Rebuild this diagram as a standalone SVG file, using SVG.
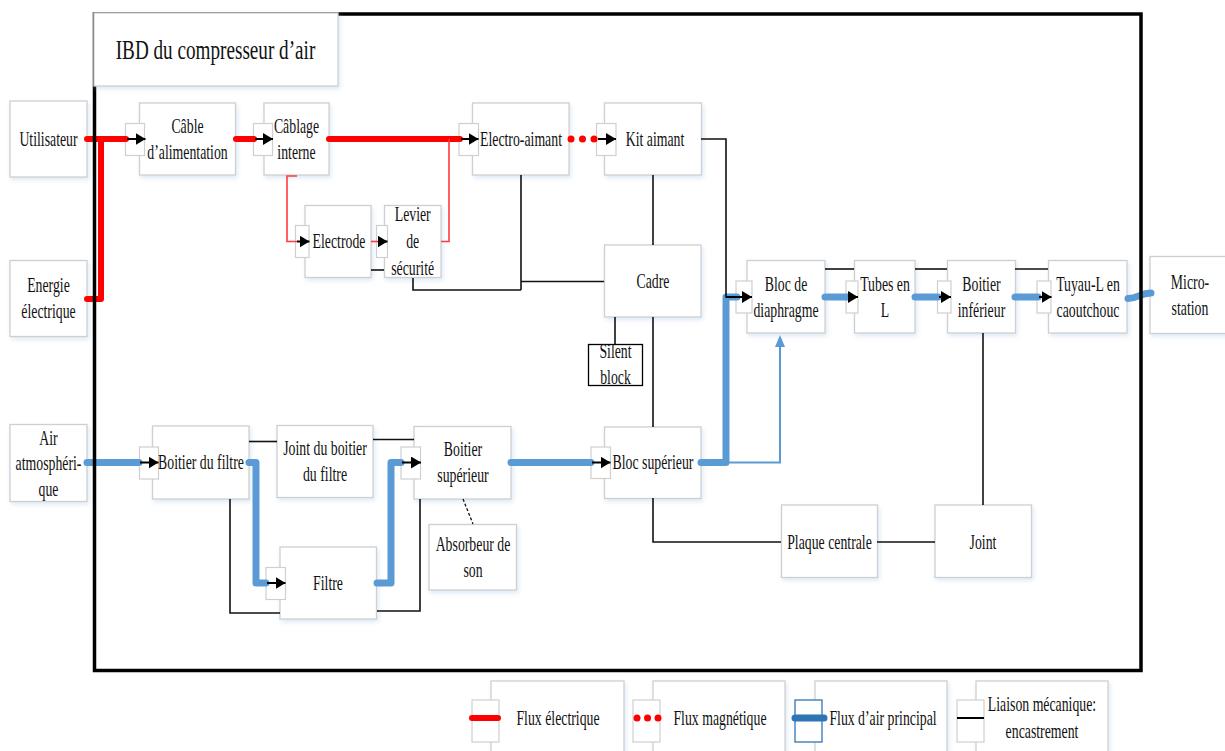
<svg xmlns="http://www.w3.org/2000/svg" width="1225" height="751" viewBox="0 0 1225 751">
<defs>
<filter id="sh" x="-10%" y="-10%" width="125%" height="130%">
<feDropShadow dx="1.5" dy="2.5" stdDeviation="2" flood-color="#9dc3e6" flood-opacity="0.35"/>
</filter>
<marker id="ab" viewBox="0 0 10 12" refX="10" refY="6" markerWidth="10" markerHeight="12" markerUnits="userSpaceOnUse" orient="auto">
<path d="M0,0 L10,6 L0,12 z" fill="#000"/>
</marker>
<marker id="abl" viewBox="0 0 12 10" refX="0" refY="5" markerWidth="12" markerHeight="10" markerUnits="userSpaceOnUse" orient="auto">
<path d="M0,0 L12,5 L0,10 z" fill="#5b9bd5"/>
</marker>
</defs>
<style>
.n{fill:#fff;stroke:#cfcfcf;stroke-width:1.3;filter:url(#sh)}
.p{fill:#fff;stroke:#cfcfcf;stroke-width:1.2}
.t{font-family:"Liberation Serif","Times New Roman",serif;font-size:20px;fill:#111;text-anchor:middle}
.re{fill:none;stroke:#ff0000;stroke-width:6;stroke-linecap:round;stroke-linejoin:round}
.rt{fill:none;stroke:#ff3b3b;stroke-width:1.6}
.rd{fill:none;stroke:#ff0000;stroke-width:7;stroke-linecap:round}
.bl{fill:none;stroke:#5b9bd5;stroke-width:7;stroke-linecap:round;stroke-linejoin:round}
.bt{fill:none;stroke:#5b9bd5;stroke-width:2}
.mk{fill:none;stroke:#111;stroke-width:1.6}
.ar{fill:none;stroke:#000;stroke-width:2;marker-end:url(#ab)}
.ds{fill:none;stroke:#111;stroke-width:1.3;stroke-dasharray:3 2}
</style>
<rect x="0" y="0" width="1225" height="751" fill="#fff"/>

<g id="utilisateur"><rect class="n" x="10" y="101" width="77" height="76"/><text class="t" transform="translate(48.5,0) scale(.69,1)" y="146">Utilisateur</text></g>
<g id="energie"><rect class="n" x="10" y="260.5" width="77" height="76"/><text class="t" transform="translate(48.5,0) scale(.69,1)"><tspan x="0" y="292">Energie</tspan><tspan x="0" y="318">électrique</tspan></text></g>
<g id="air"><rect class="n" x="10" y="424.5" width="77" height="77"/><text class="t" transform="translate(48.5,0) scale(.69,1)"><tspan x="0" y="445">Air</tspan><tspan x="0" y="470.5">atmosphéri-</tspan><tspan x="0" y="496">que</tspan></text></g>

<g id="cable"><rect class="n" x="139.5" y="103" width="96" height="72"/><rect class="p" x="125.5" y="123.5" width="19" height="32"/><text class="t" transform="translate(187.5,0) scale(.69,1)"><tspan x="0" y="133">Câble</tspan><tspan x="0" y="159">d’alimentation</tspan></text></g>
<g id="cablage"><rect class="n" x="264" y="103" width="65" height="72"/><rect class="p" x="253.5" y="123.5" width="19" height="32"/><text class="t" transform="translate(296.5,0) scale(.69,1)"><tspan x="0" y="133">Câblage</tspan><tspan x="0" y="159">interne</tspan></text></g>
<g id="electrode"><rect class="n" x="305" y="205.5" width="66" height="72"/><rect class="p" x="295.5" y="225.5" width="13.5" height="32"/><text class="t" transform="translate(339,0) scale(.69,1)" y="248.5">Electrode</text></g>
<g id="levier"><rect class="n" x="384.5" y="205.5" width="56.5" height="72"/><rect class="p" x="376.5" y="225.5" width="11" height="32"/><text class="t" transform="translate(412.7,0) scale(.69,1)"><tspan x="0" y="221.5">Levier</tspan><tspan x="0" y="248">de</tspan><tspan x="0" y="275">sécurité</tspan></text></g>
<g id="electroaimant"><rect class="n" x="472.5" y="103" width="96.5" height="72"/><rect class="p" x="459" y="123.5" width="19.5" height="32"/><text class="t" transform="translate(521,0) scale(.69,1)" y="146">Electro-aimant</text></g>
<g id="kitaimant"><rect class="n" x="604.5" y="103" width="97" height="72"/><rect class="p" x="596.5" y="123.5" width="19.5" height="32"/><text class="t" transform="translate(655,0) scale(.69,1)" y="146">Kit aimant</text></g>
<g id="cadre"><rect class="n" x="604.5" y="245" width="96.5" height="72"/><text class="t" transform="translate(653,0) scale(.69,1)" y="288.5">Cadre</text></g>
<g id="silentblock"><rect x="588.5" y="344.5" width="54" height="41" fill="#fff" stroke="#000" stroke-width="1.3"/><text class="t" transform="translate(615.5,0) scale(.69,1)"><tspan x="0" y="358.5">Silent</tspan><tspan x="0" y="384.5">block</tspan></text></g>

<g id="blocdiaphragme"><rect class="n" x="747" y="260.5" width="78" height="72.5"/><rect class="p" x="736" y="281" width="16" height="32"/><text class="t" transform="translate(786,0) scale(.69,1)"><tspan x="0" y="291">Bloc de</tspan><tspan x="0" y="317">diaphragme</tspan></text></g>
<g id="tubes"><rect class="n" x="854.5" y="260.5" width="60.5" height="72.5"/><rect class="p" x="846" y="281" width="12" height="32"/><text class="t" transform="translate(885,0) scale(.69,1)"><tspan x="0" y="291">Tubes en</tspan><tspan x="0" y="317">L</tspan></text></g>
<g id="boitierinferieur"><rect class="n" x="947.5" y="260.5" width="68" height="72.5"/><rect class="p" x="937.5" y="281" width="13.5" height="32"/><text class="t" transform="translate(981.5,0) scale(.69,1)"><tspan x="0" y="291">Boitier</tspan><tspan x="0" y="317">inférieur</tspan></text></g>
<g id="tuyau"><rect class="n" x="1048.5" y="260.5" width="78.5" height="72.5"/><rect class="p" x="1037" y="281" width="14" height="32"/><text class="t" transform="translate(1088,0) scale(.69,1)"><tspan x="0" y="291">Tuyau-L en</tspan><tspan x="0" y="317">caoutchouc</tspan></text></g>
<g id="microstation"><rect class="n" x="1150" y="256.5" width="80" height="77"/><text class="t" transform="translate(1190,0) scale(.69,1)"><tspan x="0" y="289.5">Micro-</tspan><tspan x="0" y="315">station</tspan></text></g>

<g id="boitierfiltre"><rect class="n" x="152.5" y="426" width="96.5" height="73"/><rect class="p" x="139.5" y="447" width="19" height="32"/><text class="t" transform="translate(201,0) scale(.69,1)" y="469.5">Boitier du filtre</text></g>
<g id="jointboitier"><rect class="n" x="277" y="425.5" width="96" height="72"/><text class="t" transform="translate(325,0) scale(.69,1)"><tspan x="0" y="455.5">Joint du boitier</tspan><tspan x="0" y="481.5">du filtre</tspan></text></g>
<g id="boitiersuperieur"><rect class="n" x="414" y="426.5" width="97" height="72.5"/><rect class="p" x="401" y="447" width="19.5" height="32"/><text class="t" transform="translate(463,0) scale(.69,1)"><tspan x="0" y="456.5">Boitier</tspan><tspan x="0" y="482.5">supérieur</tspan></text></g>
<g id="absorbeur"><rect class="n" x="429" y="524.5" width="87.5" height="65.5"/><text class="t" transform="translate(473,0) scale(.69,1)"><tspan x="0" y="551.5">Absorbeur de</tspan><tspan x="0" y="577">son</tspan></text></g>
<g id="filtre"><rect class="n" x="280" y="547" width="96.5" height="72"/><rect class="p" x="266" y="567.5" width="19.5" height="32"/><text class="t" transform="translate(328,0) scale(.69,1)" y="590">Filtre</text></g>
<g id="blocsuperieur"><rect class="n" x="604.5" y="427" width="96.5" height="71.5"/><rect class="p" x="591" y="447" width="19.5" height="31.5"/><text class="t" transform="translate(653,0) scale(.69,1)" y="469.5">Bloc supérieur</text></g>
<g id="plaquecentrale"><rect class="n" x="781.5" y="505" width="96" height="72.5"/><text class="t" transform="translate(829.5,0) scale(.69,1)" y="549">Plaque centrale</text></g>
<g id="joint"><rect class="n" x="935" y="505" width="96.5" height="72.5"/><text class="t" transform="translate(983,0) scale(.69,1)" y="549">Joint</text></g>

<g id="connectors">
<path class="re" d="M87,139 H126"/>
<path class="re" d="M87,299 H101 V139"/>
<path class="re" d="M236,139 H254"/>
<path class="re" d="M329,139 H460"/>
<path class="rt" d="M297,176 H287 V241.5 H297"/>
<path class="rt" d="M371,241.5 H378"/>
<path class="rt" d="M441,241.5 H449 V139"/>
<path class="rd" d="M571,139 H594.2" stroke-dasharray="0.01 11.5"/>

<path class="bl" d="M87,462.5 H139"/>
<path class="bl" d="M249,462.5 H256 V583 H266"/>
<path class="bl" d="M377,583 H391 V462.5 H401"/>
<path class="bl" d="M511,462.5 H591"/>
<path class="bl" d="M701,462.5 H726 V297 H737"/>
<path class="bl" d="M825,297 H848"/>
<path class="bl" d="M915,297 H938"/>
<path class="bl" d="M1015,297 H1038"/>
<path class="bl" d="M1128,298.5 C1138,298.5 1140,293 1151,293"/>
<path class="bt" d="M726,462.5 H780 V347" marker-end="url(#abl)"/>

<path class="mk" d="M653,175 V245"/>
<path class="mk" d="M521,175 V290"/>
<path class="mk" d="M413,278 V290 H521"/>
<path class="mk" d="M521,281.5 H604"/>
<path class="mk" d="M371,270 H384"/>
<path class="mk" d="M615,317 V344"/>
<path class="mk" d="M653,317 V427"/>
<path class="mk" d="M653,498 V542 H781"/>
<path class="mk" d="M877,542 H935"/>
<path class="mk" d="M983,333 V505"/>
<path class="mk" d="M825,269 H854"/>
<path class="mk" d="M915,269 H947"/>
<path class="mk" d="M1015,269 H1048"/>
<path class="mk" d="M249,441.5 H277"/>
<path class="mk" d="M373,439.5 H414"/>
<path class="mk" d="M230,499 V613 H280"/>
<path class="mk" d="M377,611 H420 V499"/>
<path class="ds" d="M463,499 L473,524"/>

<path class="mk" d="M701,139 H726 V297 H740"/>
<path class="ar" d="M726,297 H752"/>
<path class="ar" d="M127,139 H145.5"/>
<path class="ar" d="M255,139 H273"/>
<path class="ar" d="M297,241.5 H309.5"/>
<path class="ar" d="M378,241.5 H387.5"/>
<path class="ar" d="M461,139 H478.5"/>
<path class="ar" d="M598,139 H616"/>
<path class="ar" d="M848,297 H858"/>
<path class="ar" d="M939,297 H951"/>
<path class="ar" d="M1039,297 H1051.5"/>
<path class="ar" d="M140,462.5 H158.5"/>
<path class="ar" d="M267,583 H285.5"/>
<path class="ar" d="M402,462.5 H421"/>
<path class="ar" d="M592,462.5 H610.5"/>
</g>

<rect x="94.5" y="14" width="1046.5" height="656.5" fill="none" stroke="#000" stroke-width="3.5"/>
<g id="title"><rect x="94" y="13" width="244" height="73" fill="#fff" stroke="#cfcfcf" stroke-width="1.3" filter="url(#sh)"/><text class="t" style="font-size:27px" transform="translate(215.5,0) scale(.71,1)" y="59">IBD du compresseur d’air</text></g>

<g id="legend">
<g id="leg-elec"><rect class="n" x="491" y="681" width="133" height="80"/><rect class="p" x="472" y="700" width="27" height="42"/><path class="re" d="M472,718 H498" stroke-width="7"/><text class="t" transform="translate(558,0) scale(.69,1)" y="725">Flux électrique</text></g>
<g id="leg-mag"><rect class="n" x="653" y="681" width="132" height="80"/><rect class="p" x="633" y="700" width="27" height="42"/><path class="rd" d="M637,718 H658.2" stroke-dasharray="0.01 10.5"/><text class="t" transform="translate(720,0) scale(.69,1)" y="725">Flux magnétique</text></g>
<g id="leg-air"><rect class="n" x="815" y="681" width="132" height="80"/><rect x="795" y="700" width="27" height="42" fill="#fff" stroke="#2e75b6" stroke-width="1.3"/><path d="M795,718 H824" stroke="#2e75b6" stroke-width="7" stroke-linecap="round"/><text class="t" transform="translate(883,0) scale(.69,1)" y="725">Flux d’air principal</text></g>
<g id="leg-meca"><rect class="n" x="976" y="681" width="132" height="80"/><rect class="p" x="957" y="700" width="27" height="42"/><path d="M957,718 H984" stroke="#000" stroke-width="2"/><text class="t" transform="translate(1042,0) scale(.69,1)"><tspan x="0" y="711">Liaison mécanique:</tspan><tspan x="0" y="738">encastrement</tspan></text></g>
</g>
</svg>
